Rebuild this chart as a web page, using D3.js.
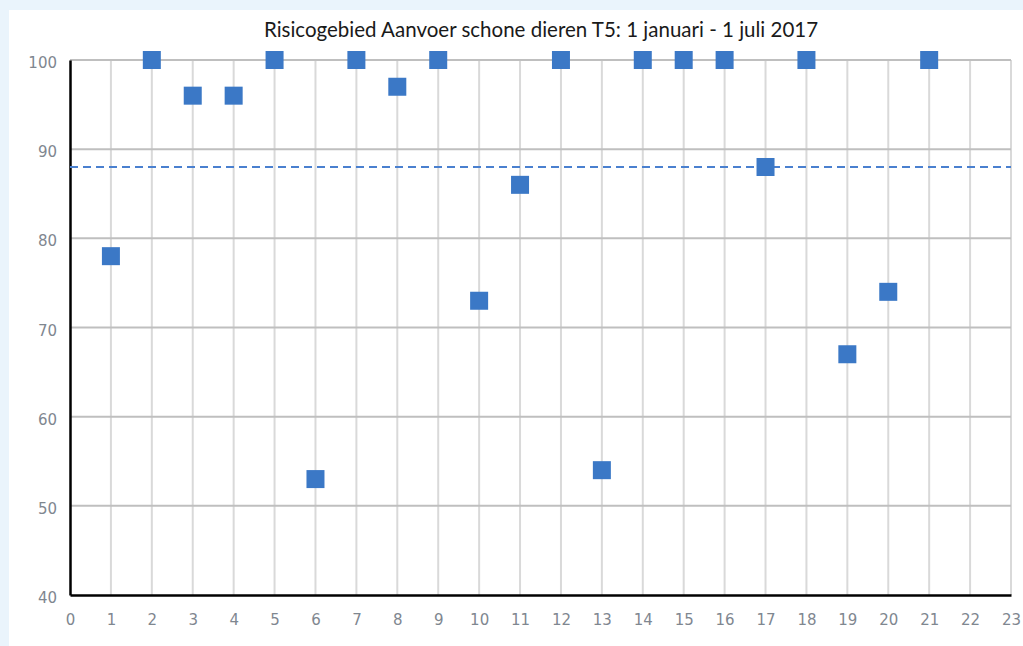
<!DOCTYPE html>
<html>
<head>
<meta charset="utf-8">
<script src="https://cdn.jsdelivr.net/npm/d3@7"></script>
<style>
  body { margin: 0; background: #eaf4fc; }
  svg { display: block; }
</style>
</head>
<body>
<div id="chart"></div>
<script>
const title = 'Risicogebied Aanvoer schone dieren T5: 1 januari - 1 juli 2017';
const weeks = [1, 2, 3, 4, 5, 6, 7, 8, 9, 10, 11, 12, 13, 14, 15, 16, 17, 18, 19, 20, 21];
const scores = [78, 100, 96, 96, 100, 53, 100, 97, 100, 73, 86, 100, 54, 100, 100, 100, 88, 100, 67, 74, 100];
const norm = 88;
const xTicks = d3.range(0, 24);
const yTicks = [40, 50, 60, 70, 80, 90, 100];

const width = 1023;
const height = 646;
const margin = {top: 60, right: 12, bottom: 51, left: 70};

const svg = d3.select('#chart')
    .append('svg')
    .attr('width', width)
    .attr('height', height);

// white panel on light blue frame
svg.append('rect')
    .attr('x', 9).attr('y', 10)
    .attr('width', width - 9).attr('height', height - 10)
    .attr('fill', '#fff');

const x = d3.scaleLinear().domain([0, 23]).range([margin.left, width - margin.right]);
const y = d3.scaleLinear().domain([40, 100]).range([height - margin.bottom, margin.top]);

// vertical gridlines
svg.append('g')
    .selectAll('line')
    .data(xTicks.slice(1))
    .enter()
    .append('line')
    .attr('x1', d => x(d)).attr('x2', d => x(d))
    .attr('y1', y(100)).attr('y2', y(40))
    .attr('stroke', '#d9d9d9')
    .attr('stroke-width', 2);

// horizontal gridlines
svg.append('g')
    .selectAll('line')
    .data(yTicks.slice(1))
    .enter()
    .append('line')
    .attr('x1', x(0)).attr('x2', x(23))
    .attr('y1', d => y(d)).attr('y2', d => y(d))
    .attr('stroke', '#bfbfbf')
    .attr('stroke-width', 2);

// axes
const xAxis = svg.append('g')
    .attr('transform', `translate(0,${y(40)})`)
    .call(d3.axisBottom(x).tickValues(xTicks).tickSize(0).tickPadding(19).tickFormat(d3.format('d')));
const yAxis = svg.append('g')
    .attr('transform', `translate(${x(0)},0)`)
    .call(d3.axisLeft(y).tickValues(yTicks).tickSize(0).tickPadding(13).tickFormat(d3.format('d')));

[xAxis, yAxis].forEach(ax => {
    ax.select('.domain').attr('stroke', '#000').attr('stroke-width', 2.5);
    ax.selectAll('text')
        .attr('fill', '#7f8790')
        .style('font-family', '"DejaVu Sans", sans-serif')
        .style('font-size', '15px');
});
yAxis.selectAll('text').attr('dy', '0.5em');

// norm line
svg.append('line')
    .attr('x1', x(0)).attr('x2', x(23))
    .attr('y1', y(norm)).attr('y2', y(norm))
    .attr('stroke', '#4a80cf')
    .attr('stroke-width', 2)
    .attr('stroke-dasharray', '8,5');

// markers
const size = 18;
svg.append('g')
    .selectAll('rect')
    .data(weeks.map((w, i) => ({week: w, score: scores[i]})))
    .enter()
    .append('rect')
    .attr('x', d => x(d.week) - size / 2)
    .attr('y', d => y(d.score) - size / 2)
    .attr('width', size)
    .attr('height', size)
    .attr('fill', '#3b78c6');

svg.append('text')
    .attr('x', 541)
    .attr('y', 37)
    .attr('text-anchor', 'middle')
    .attr('fill', '#1a1a1a')
    .style('font-family', 'Lato, sans-serif')
    .style('font-size', '20.5px')
    .text(title);
</script>
</body>
</html>
